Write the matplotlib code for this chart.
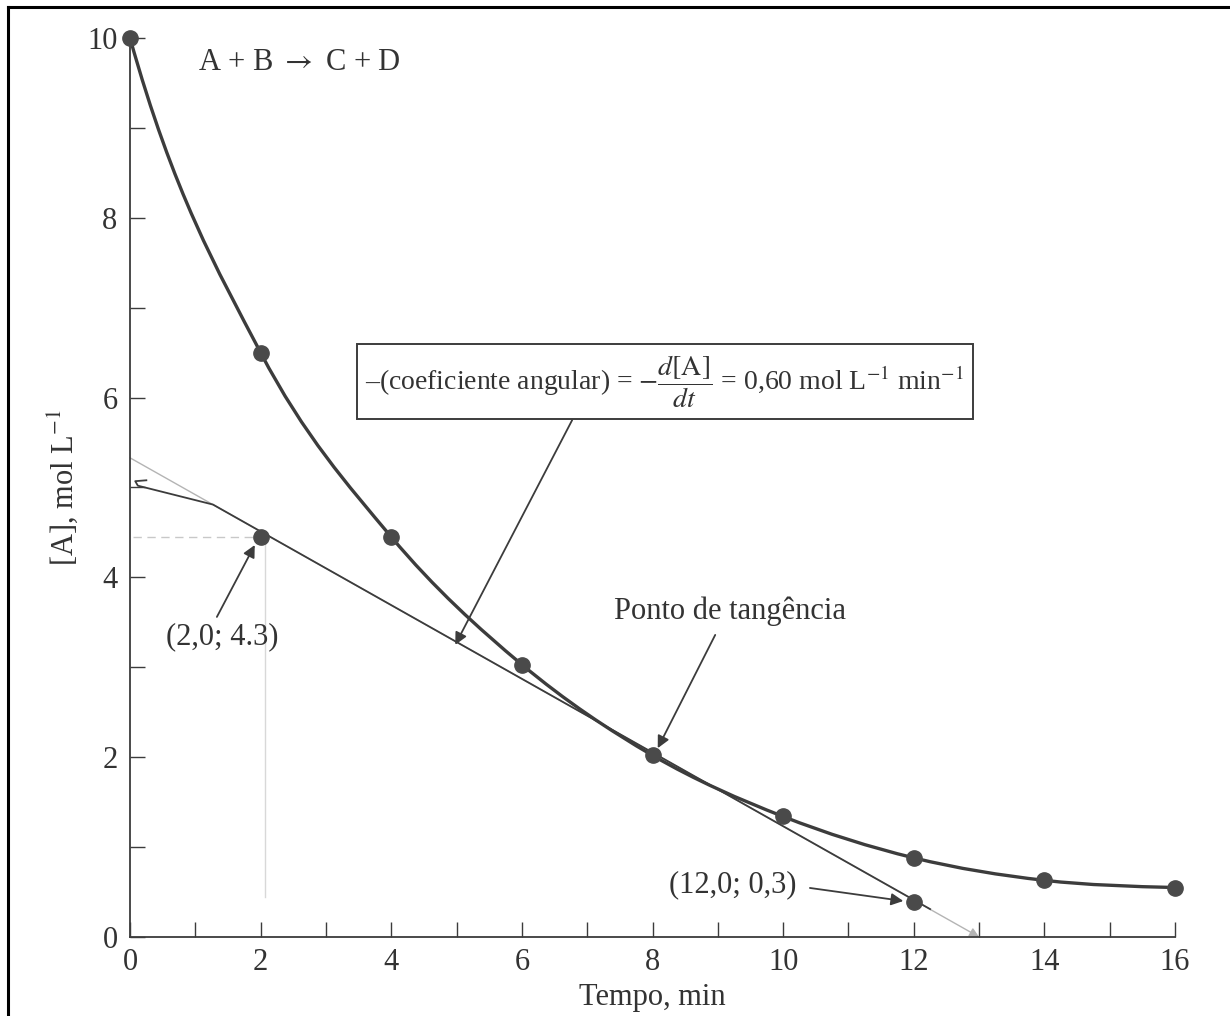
import matplotlib.pyplot as plt
from matplotlib.path import Path
from matplotlib.patches import PathPatch
from matplotlib.lines import Line2D
import numpy as np

plt.rcParams['font.family'] = ['Liberation Serif', 'DejaVu Serif']
plt.rcParams['mathtext.fontset'] = 'stix'

# concentration of A vs time
tempo = [0, 2, 4, 6, 8, 10, 12, 14, 16]
conc_A = [10.0, 6.5, 4.45, 3.03, 2.02, 1.34, 0.88, 0.63, 0.55]
start_slope = -2.6   # slope of the drawn curve at t = 0

# points
tang_pts_x = [2.0, 12.0]
tang_pts_y = [4.45, 0.39]

# dark (hand drawn) tangent line and the light guide line
tangent_x = [0.25, 0.08, 0.12, 1.27, 12.25]
tangent_y = [5.08, 5.07, 5.02, 4.81, 0.31]
guide_x = [0.0, 13.0]
guide_y = [5.33, 0.0]

xticks = list(range(0, 17, 2))
yticks = list(range(0, 11, 2))

ink = '#3c3c3c'
fs = 22

fig = plt.figure(figsize=(12.3, 10.16), dpi=100)
ax = fig.add_axes([0.1057, 0.0778, 0.8496, 0.8848])
ax.set_xlim(0, 16)
ax.set_ylim(0, 10)

# smooth curve through the data (catmull-rom -> bezier, drawn by matplotlib)
P = np.column_stack([tempo, conc_A])
n = len(P)
T = np.zeros_like(P)
T[1:-1] = (P[2:] - P[:-2]) / 2
T[0] = [P[1, 0] - P[0, 0], start_slope * (P[1, 0] - P[0, 0])]
T[-1] = (3 * (P[-1] - P[-2]) - T[-2]) / 2
verts = [P[0]]
codes = [Path.MOVETO]
for i in range(n - 1):
    verts += [P[i] + T[i] / 3, P[i + 1] - T[i + 1] / 3, P[i + 1]]
    codes += [Path.CURVE4] * 3
ax.add_patch(PathPatch(Path(verts, codes), fill=False, lw=2.4,
                       edgecolor=ink, zorder=4, capstyle='round', clip_on=False))

# faint construction lines
ax.plot([0.05, 2.0], [tang_pts_y[0], tang_pts_y[0]], color='#c8c8c8',
        lw=1.0, ls=(0, (6, 4)), zorder=2)
ax.plot([2.07, 2.07], [0.45, tang_pts_y[0]], color='#d8d8d8', lw=1.0, zorder=2)
ax.annotate('', xy=(guide_x[1], guide_y[1]), xytext=(guide_x[0], guide_y[0]),
            arrowprops=dict(arrowstyle='-|>', color='#b4b4b4', lw=1.0,
                            mutation_scale=14, shrinkA=0, shrinkB=0), zorder=2)

ax.plot(tangent_x, tangent_y, color=ink, lw=1.3, zorder=3)

ax.plot(tempo, conc_A, 'o', color='#4a4a4a', ms=11, zorder=5, clip_on=False)
ax.plot(tang_pts_x, tang_pts_y, 'o', color='#4a4a4a', ms=11, zorder=5, clip_on=False)

# axes styling
for s in ['top', 'right']:
    ax.spines[s].set_visible(False)
for s in ['left', 'bottom']:
    ax.spines[s].set_color(ink)
    ax.spines[s].set_linewidth(1.3)
ax.set_xticks(range(0, 17), minor=True)
ax.set_yticks(range(0, 11), minor=True)
ax.set_xticks(xticks)
ax.set_yticks(yticks)
ax.tick_params(which='both', direction='in', length=10.5, width=1.0,
               color=ink, labelsize=fs, labelcolor='#333333')
ax.tick_params(axis='x', pad=8)
ax.tick_params(axis='y', pad=9)
ax.set_xlabel('Tempo, min', fontsize=fs, color='#333333', labelpad=4)
ax.set_ylabel('[A], mol L$^{-1}$', fontsize=fs, color='#333333', labelpad=5)

# texts
txt = dict(fontsize=fs, color='#333333', ha='center', va='center')
ax.text(2.6, 9.73, 'A + B $\\rightarrow$ C + D', **txt)
ax.text(8.19, 6.18,
        '\u2013(coeficiente angular) = $-\\dfrac{d[\\mathrm{A}]}{dt}$ = 0,60 mol L$^{-1}$ min$^{-1}$',
        bbox=dict(boxstyle='square,pad=0.32', fc='white', ec=ink, lw=1.4),
        fontsize=20, color='#333333', ha='center', va='center')
ax.text(1.41, 3.34, '(2,0; 4.3)', **txt)
ax.text(9.19, 3.62, 'Ponto de tang\u00eancia', **txt)
ax.text(9.23, 0.58, '(12,0; 0,3)', **txt)

arrow = dict(arrowstyle='-|>', color=ink, lw=1.3, mutation_scale=18,
             shrinkA=0, shrinkB=0)
ax.annotate('', xy=(4.98, 3.25), xytext=(6.77, 5.75), arrowprops=arrow, zorder=6)
ax.annotate('', xy=(8.08, 2.10), xytext=(8.96, 3.36), arrowprops=arrow, zorder=6)
ax.annotate('', xy=(1.91, 4.36), xytext=(1.33, 3.56), arrowprops=arrow, zorder=6)
ax.annotate('', xy=(11.84, 0.40), xytext=(10.41, 0.545), arrowprops=arrow, zorder=6)

# scan frame (top and left edges)
fig.add_artist(Line2D([0.0065, 0.0065], [0.0, 0.9931], color='black', lw=2.2))
fig.add_artist(Line2D([0.0065, 1.0], [0.9931, 0.9931], color='black', lw=2.2))

fig.savefig('out.png', dpi=100)
